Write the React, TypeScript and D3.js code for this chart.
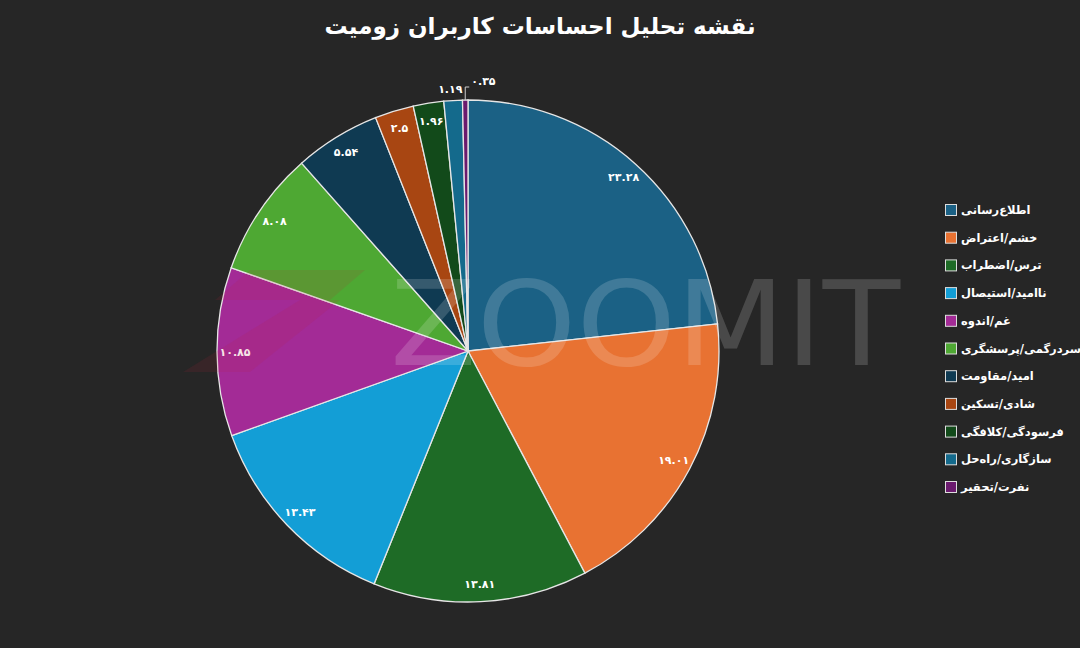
import * as d3 from "d3";
import { useEffect, useRef } from "react";

const categories = [
    "اطلاع\u200cرسانی",
    "خشم/اعتراض",
    "ترس/اضطراب",
    "ناامید/استیصال",
    "غم/اندوه",
    "سردرگمی/پرسشگری",
    "امید/مقاومت",
    "شادی/تسکین",
    "فرسودگی/کلافگی",
    "سازگاری/راه\u200cحل",
    "نفرت/تحقیر",
];
const values = [23.28, 19.01, 13.81, 13.43, 10.85, 8.08, 5.54, 2.5, 1.96, 1.19, 0.35];
const colors = [
    "#1b6185", "#e87232", "#1e6b26", "#139ed6", "#a32b96", "#4ea833",
    "#0f3a52", "#a84612", "#124a1a", "#146a8c", "#6b1a6e",
];
const title = "نقشه تحلیل احساسات کاربران زومیت";

const FONT = "'DejaVu Sans', sans-serif";

// convert western digits to persian digits
const fa = (v: number) => String(v).replace(/[0-9]/g, (c) => "۰۱۲۳۴۵۶۷۸۹"[+c]);

export default function App() {
    const svgRef = useRef<SVGSVGElement | null>(null);

    useEffect(() => {
        if (!svgRef.current) return;
        const svg = d3.select(svgRef.current);
        svg.selectAll("*").remove();

        const width = 1080;
        const height = 648;
        const cx = 468;
        const cy = 351;
        const R = 251;

        svg.attr("width", width).attr("height", height);
        svg.append("rect").attr("width", width).attr("height", height).attr("fill", "#262626");

        // Title
        svg.append("text")
            .attr("x", 540)
            .attr("y", 34)
            .attr("text-anchor", "middle")
            .attr("fill", "#ffffff")
            .style("font-family", FONT)
            .style("font-weight", "bold")
            .style("font-size", "23px")
            .text(title);

        const data = categories.map((c, i) => ({ name: c, value: values[i], color: colors[i] }));
        type D = (typeof data)[number];

        const pie = d3.pie<D>().sort(null).value((d) => d.value);
        const arcs = pie(data);
        const arc = d3.arc<d3.PieArcDatum<D>>().innerRadius(0).outerRadius(R);

        const g = svg.append("g").attr("transform", `translate(${cx},${cy})`);

        g.selectAll("path.slice")
            .data(arcs)
            .enter()
            .append("path")
            .attr("class", "slice")
            .attr("d", arc)
            .attr("fill", (d) => d.data.color)
            .attr("stroke", "#e6e6e6")
            .attr("stroke-width", 1.3);

        // Labels
        const mid = (d: d3.PieArcDatum<D>) => (d.startAngle + d.endAngle) / 2;
        const label = (x: number, y: number, anchor: string, v: number) =>
            g.append("text")
                .attr("x", x)
                .attr("y", y)
                .attr("dy", "0.35em")
                .attr("text-anchor", anchor)
                .attr("fill", "#ffffff")
                .style("font-family", FONT)
                .style("font-weight", "bold")
                .style("font-size", "11px")
                .text(fa(v));

        arcs.forEach((d, i) => {
            const a = mid(d);
            if (d.data.value >= 1.5) {
                const r = R - 18;
                label(r * Math.sin(a), -r * Math.cos(a), "middle", d.data.value);
            } else if (i === arcs.length - 1) {
                // leader line for the tiniest slice
                const x0 = R * Math.sin(a);
                const y0 = -R * Math.cos(a);
                const y1 = y0 - 13;
                g.append("path")
                    .attr("d", `M${x0},${y0}L${x0},${y1}L${x0 + 4},${y1}`)
                    .attr("fill", "none")
                    .attr("stroke", "#cfcfcf")
                    .attr("stroke-width", 1);
                label(x0 + 6, y1 - 6, "start", d.data.value);
            } else {
                const r = R + 11;
                label(r * Math.sin(a) + 10, -r * Math.cos(a), "end", d.data.value);
            }
        });

        // Watermark
        const wm = svg.append("g").attr("pointer-events", "none");
        wm.append("polygon")
            .attr("points", "250,270 365,270 330,300 215,300")
            .attr("fill", "#c0203a")
            .attr("opacity", 0.12);
        wm.append("polygon")
            .attr("points", "300,300 340,300 250,372 183,372")
            .attr("fill", "#c0203a")
            .attr("opacity", 0.12);
        wm.append("text")
            .attr("x", 390)
            .attr("y", 365)
            .attr("textLength", 510)
            .attr("lengthAdjust", "spacingAndGlyphs")
            .attr("fill", "#ffffff")
            .attr("opacity", 0.16)
            .style("font-family", FONT)
            .style("font-size", "118px")
            .text("ZOOMIT");

        // Legend
        const legend = svg.append("g").attr("transform", "translate(945,210)");
        const step = 27.7;
        data.forEach((d, i) => {
            const row = legend.append("g").attr("transform", `translate(0,${i * step})`);
            row.append("rect")
                .attr("x", 0.5)
                .attr("y", -5.5)
                .attr("width", 11)
                .attr("height", 11)
                .attr("fill", d.color)
                .attr("stroke", "#dddddd")
                .attr("stroke-width", 1);
            row.append("text")
                .attr("x", 16)
                .attr("y", 0)
                .attr("dy", "0.35em")
                .attr("fill", "#ffffff")
                .style("font-family", FONT)
                .style("font-weight", "bold")
                .style("font-size", "11.5px")
                .text(d.name);
        });
    }, []);

    return (
        <svg ref={svgRef} style={{ position: "absolute", left: 0, top: 0, display: "block" }} />
    );
}
